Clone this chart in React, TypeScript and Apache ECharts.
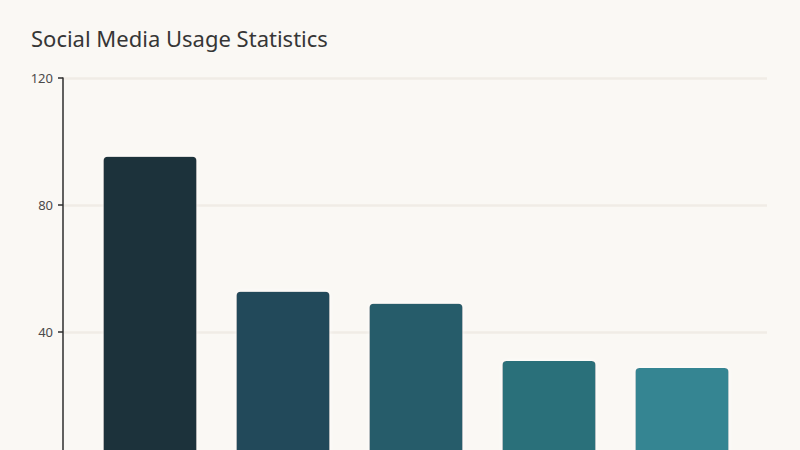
import React, { useEffect, useRef } from "react";
import * as echarts from "echarts";

const categories = ["A", "B", "C", "D", "E"];
const usageValues = [95.2, 52.7, 48.9, 30.9, 28.7];
const barColors = ["#1b333b", "#22485a", "#265c6b", "#2a6f7a", "#358592"];
const yTicks = [0, 40, 80, 120];

export default function App() {
  const chartRef = useRef<HTMLDivElement>(null);

  useEffect(() => {
    if (!chartRef.current) return;
    const chart = echarts.init(chartRef.current, null, { renderer: "svg" });

    const option = {
      animation: false,
      backgroundColor: "#faf8f4",
      title: {
        text: "Social Media Usage Statistics",
        left: 26,
        top: 22,
        textStyle: { fontFamily: "Noto Sans", fontSize: 22, fontWeight: "normal", color: "#363636" },
      },
      grid: [
        // axis + gridlines
        { left: 63, right: 33, top: 78, height: 381 },
        // bars
        { left: 83.5, width: 665, top: 78, height: 381 },
      ],
      xAxis: [
        { type: "value", gridIndex: 0, show: false, min: 0, max: 1 },
        {
          type: "category",
          gridIndex: 1,
          data: categories,
          show: false,
        },
      ],
      yAxis: [
        {
          type: "value",
          gridIndex: 0,
          min: yTicks[0],
          max: yTicks[yTicks.length - 1],
          interval: 40,
          axisLine: { show: true, lineStyle: { color: "#2e2e2e", width: 1.5 } },
          axisTick: { show: true, length: 5, lineStyle: { color: "#2e2e2e", width: 1.5 } },
          axisLabel: { fontFamily: "Noto Sans", fontSize: 13, color: "#4a4a4a", margin: 10, showMinLabel: false },
          splitLine: { show: true, lineStyle: { color: "#f0ece6", width: 2.5 } },
        },
        {
          type: "value",
          gridIndex: 1,
          min: yTicks[0],
          max: yTicks[yTicks.length - 1],
          show: false,
          splitLine: { show: false },
        },
      ],
      series: [
        {
          type: "bar",
          xAxisIndex: 1,
          yAxisIndex: 1,
          barWidth: 93,
          data: usageValues.map((v, i) => ({
            value: v,
            itemStyle: {
              color: barColors[i],
              borderRadius: [4, 4, 0, 0],
              shadowColor: "rgba(255,255,255,0.9)",
              shadowBlur: 4,
            },
          })),
        },
      ],
    };

    chart.setOption(option);
    return () => chart.dispose();
  }, []);

  return (
    <div style={{ position: "fixed", left: 0, top: 0, width: "800px", height: "450px", overflow: "hidden" }}>
      <div ref={chartRef} style={{ width: "800px", height: "500px" }} />
    </div>
  );
}
